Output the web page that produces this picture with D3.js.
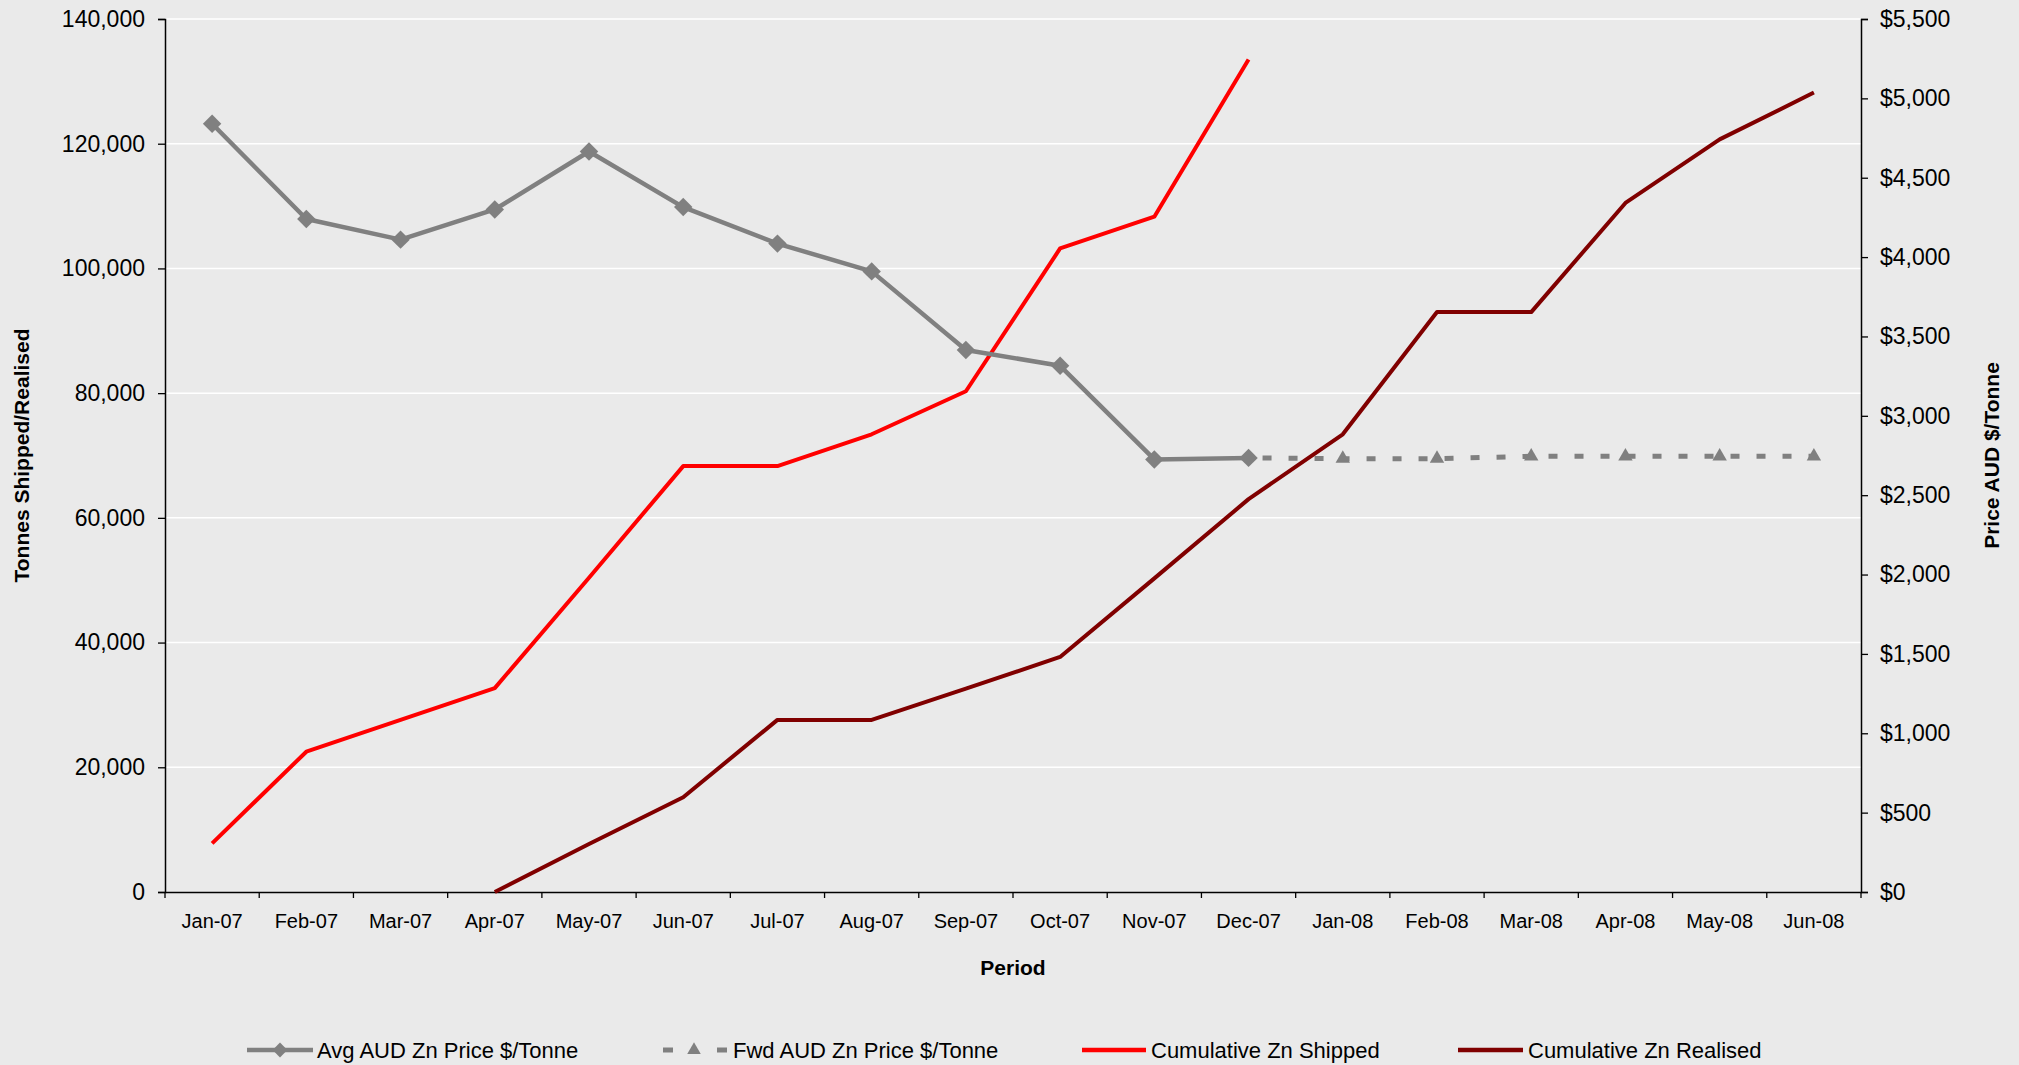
<!DOCTYPE html>
<html>
<head>
<meta charset="utf-8">
<script src="https://cdn.jsdelivr.net/npm/d3@7/dist/d3.min.js"></script>
<style>
  html, body { margin: 0; padding: 0; background: #eaeaea; }
  svg { display: block; font-family: "Liberation Sans", Arial, sans-serif; }
</style>
</head>
<body>
<svg id="chart" width="2019" height="1065"></svg>
<script>
// Monthly periods
const periods = ["Jan-07","Feb-07","Mar-07","Apr-07","May-07","Jun-07","Jul-07","Aug-07","Sep-07",
                 "Oct-07","Nov-07","Dec-07","Jan-08","Feb-08","Mar-08","Apr-08","May-08","Jun-08"];

// Average AUD zinc price ($/tonne), right axis
const avgPrice = [4840, 4240, 4110, 4300, 4665, 4315, 4085, 3910, 3415, 3315, 2725, 2735,
                  null, null, null, null, null, null];

// Forward AUD zinc price ($/tonne), right axis
const fwdPrice = [null, null, null, null, null, null, null, null, null, null, null, 2735,
                  2730, 2730, 2745, 2745, 2745, 2745];

// Cumulative zinc shipped (tonnes), left axis
const cumShipped = [7800, 22500, 27600, 32700, 50400, 68300, 68300, 73400, 80300, 103200, 108300, 133500,
                    null, null, null, null, null, null];

// Cumulative zinc realised (tonnes), left axis
const cumRealised = [null, null, null, 0, 7700, 15200, 27600, 27600, 32600, 37700, 50300, 63000,
                     73400, 93000, 93000, 110500, 120700, 128200];

const leftTicks = [0, 20000, 40000, 60000, 80000, 100000, 120000, 140000];
const rightTicks = [0, 500, 1000, 1500, 2000, 2500, 3000, 3500, 4000, 4500, 5000, 5500];

const legendLabels = ["Avg AUD Zn Price $/Tonne", "Fwd AUD Zn Price $/Tonne",
                      "Cumulative Zn Shipped", "Cumulative Zn Realised"];

const GREY = "#808080", RED = "#ff0000", DARKRED = "#800000";

const svg = d3.select("#chart");
const plot = { left: 165, right: 1861, top: 19, bottom: 892 };

const x = d3.scaleBand().domain(periods).range([plot.left, plot.right]).padding(0);
const yL = d3.scaleLinear().domain([0, 140000]).range([plot.bottom, plot.top]);
const yR = d3.scaleLinear().domain([0, 5500]).range([plot.bottom, plot.top]);
const cx = p => x(p) + x.bandwidth() / 2;

// Background
svg.append("rect").attr("width", 2019).attr("height", 1065).attr("fill", "#eaeaea");

// Horizontal gridlines on the tonnes axis
svg.append("g").selectAll("line").data(leftTicks.slice(1)).join("line")
  .attr("x1", plot.left).attr("x2", plot.right)
  .attr("y1", d => yL(d)).attr("y2", d => yL(d))
  .attr("stroke", "#ffffff").attr("stroke-width", 1.5);

// Left axis
const gL = svg.append("g").attr("transform", `translate(${plot.left},0)`)
  .call(d3.axisLeft(yL).tickValues(leftTicks).tickFormat(d3.format(",")).tickSizeOuter(0).tickSize(7).tickPadding(13));
// Right axis
const gR = svg.append("g").attr("transform", `translate(${plot.right},0)`)
  .call(d3.axisRight(yR).tickValues(rightTicks).tickFormat(d => "$" + d3.format(",")(d)).tickSizeOuter(0).tickSize(7).tickPadding(12));
// Bottom axis (labels centred in each period)
const gB = svg.append("g").attr("transform", `translate(0,${plot.bottom})`)
  .call(d3.axisBottom(x).tickSize(0).tickSizeOuter(0).tickPadding(22));

[gL, gR].forEach(g => {
  g.selectAll("text").attr("font-size", 23).attr("fill", "#000");
  g.selectAll("line").attr("stroke", "#000").attr("stroke-width", 1.3);
  g.select(".domain").attr("stroke", "#000").attr("stroke-width", 1.5);
});
gB.selectAll("text").attr("font-size", 20).attr("fill", "#000");
gB.select(".domain").attr("stroke", "#000").attr("stroke-width", 1.5);

// Period boundary ticks on the x axis
const bounds = periods.map(p => x(p)).concat([x.range()[1]]);
svg.append("g").selectAll("line").data(bounds).join("line")
  .attr("x1", d => d).attr("x2", d => d)
  .attr("y1", plot.bottom).attr("y2", plot.bottom + 6)
  .attr("stroke", "#000").attr("stroke-width", 1.3);

// Axis titles
svg.append("text").attr("transform", `translate(29,${(plot.top + plot.bottom) / 2}) rotate(-90)`)
  .attr("text-anchor", "middle").attr("font-size", 21).attr("font-weight", "bold")
  .text("Tonnes Shipped/Realised");
svg.append("text").attr("transform", `translate(1999,${(plot.top + plot.bottom) / 2}) rotate(-90)`)
  .attr("text-anchor", "middle").attr("font-size", 21).attr("font-weight", "bold")
  .text("Price AUD $/Tonne");
svg.append("text").attr("x", (plot.left + plot.right) / 2).attr("y", 975)
  .attr("text-anchor", "middle").attr("font-size", 21).attr("font-weight", "bold")
  .text("Period");

// Series
const toPts = arr => periods.map((p, i) => ({ p, v: arr[i] }));
const lineFor = y => d3.line().defined(d => d.v != null).x(d => cx(d.p)).y(d => y(d.v));

const diamond = d3.symbol().type(d3.symbolSquare).size(170);
const triangle = d3.symbol().type(d3.symbolTriangle).size(90);

// Cumulative shipped
svg.append("path").datum(toPts(cumShipped))
  .attr("fill", "none").attr("stroke", RED).attr("stroke-width", 4).attr("stroke-linejoin", "round")
  .attr("d", lineFor(yL));

// Average price
svg.append("path").datum(toPts(avgPrice))
  .attr("fill", "none").attr("stroke", GREY).attr("stroke-width", 4.5).attr("stroke-linejoin", "round")
  .attr("d", lineFor(yR));
svg.append("g").selectAll("path").data(toPts(avgPrice).filter(d => d.v != null)).join("path")
  .attr("d", diamond)
  .attr("transform", d => `translate(${cx(d.p)},${yR(d.v)}) rotate(45)`)
  .attr("fill", GREY);

// Forward price
svg.append("path").datum(toPts(fwdPrice))
  .attr("fill", "none").attr("stroke", GREY).attr("stroke-width", 5)
  .attr("stroke-dasharray", "9,17").attr("stroke-dashoffset", -14)
  .attr("d", lineFor(yR));
svg.append("g").selectAll("path").data(toPts(fwdPrice).filter(d => d.v != null).slice(1)).join("path")
  .attr("d", triangle)
  .attr("transform", d => `translate(${cx(d.p)},${yR(d.v)})`)
  .attr("fill", GREY);

// Cumulative realised
svg.append("path").datum(toPts(cumRealised))
  .attr("fill", "none").attr("stroke", DARKRED).attr("stroke-width", 4).attr("stroke-linejoin", "round")
  .attr("d", lineFor(yL));

// Legend
const legY = 1050;
const leg = svg.append("g").attr("font-size", 22);
// Avg
leg.append("line").attr("x1", 247).attr("x2", 313).attr("y1", legY).attr("y2", legY)
  .attr("stroke", GREY).attr("stroke-width", 4.5);
leg.append("path").attr("d", d3.symbol().type(d3.symbolSquare).size(110))
  .attr("transform", `translate(280,${legY}) rotate(45)`).attr("fill", GREY);
leg.append("text").attr("x", 317).attr("y", legY).attr("dy", "0.36em").text(legendLabels[0]);
// Fwd
[663, 717].forEach(x0 => leg.append("line").attr("x1", x0).attr("x2", x0 + 10)
  .attr("y1", legY).attr("y2", legY).attr("stroke", GREY).attr("stroke-width", 5));
leg.append("path").attr("d", d3.symbol().type(d3.symbolTriangle).size(80))
  .attr("transform", `translate(694,${legY})`).attr("fill", GREY);
leg.append("text").attr("x", 733).attr("y", legY).attr("dy", "0.36em").text(legendLabels[1]);
// Shipped
leg.append("line").attr("x1", 1082).attr("x2", 1146).attr("y1", legY).attr("y2", legY)
  .attr("stroke", RED).attr("stroke-width", 4.5);
leg.append("text").attr("x", 1151).attr("y", legY).attr("dy", "0.36em").text(legendLabels[2]);
// Realised
leg.append("line").attr("x1", 1458).attr("x2", 1523).attr("y1", legY).attr("y2", legY)
  .attr("stroke", DARKRED).attr("stroke-width", 4.5);
leg.append("text").attr("x", 1528).attr("y", legY).attr("dy", "0.36em").text(legendLabels[3]);
</script>
</body>
</html>
